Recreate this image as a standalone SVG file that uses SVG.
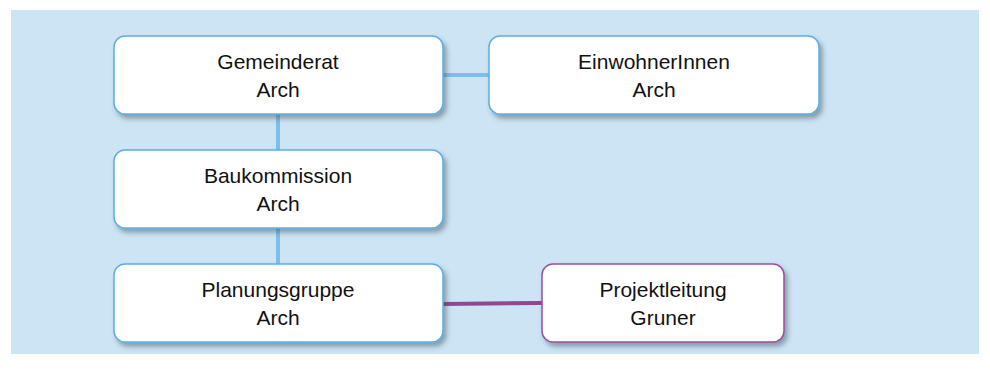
<svg xmlns="http://www.w3.org/2000/svg" width="990" height="382" viewBox="0 0 990 382">
<defs>
<filter id="sh" x="-10%" y="-20%" width="125%" height="150%">
<feDropShadow dx="3" dy="4" stdDeviation="2.5" flood-color="#334455" flood-opacity="0.45"/>
</filter>
<style>
.n{fill:#ffffff;stroke:#5eaee3;stroke-width:1.5;filter:url(#sh)}
.p{fill:#ffffff;stroke:#9b4f9c;stroke-width:1.5;filter:url(#sh)}
.t{font-family:"Liberation Sans",Arial,sans-serif;font-size:21px;fill:#111111;text-anchor:middle}
.cb{stroke:#7dbfe8;stroke-width:4;fill:none}
.cp{stroke:#8c4a8f;stroke-width:4;fill:none}
</style>
</defs>
<rect width="990" height="382" fill="#ffffff"/>
<rect x="11" y="10" width="968" height="344" fill="#cde4f4"/>
<g id="connectors">
<line class="cb" x1="443" y1="75" x2="489" y2="75"/>
<line class="cb" x1="278" y1="114" x2="278" y2="150"/>
<line class="cb" x1="278" y1="228" x2="278" y2="264"/>
<line class="cp" x1="443" y1="304" x2="542" y2="303"/>
</g>
<g id="gemeinderat">
<rect class="n" x="114" y="36" width="329" height="78" rx="11"/>
<text class="t" x="278" y="69">Gemeinderat</text>
<text class="t" x="278" y="97">Arch</text>
</g>
<g id="einwohnerinnen">
<rect class="n" x="489" y="36" width="330" height="78" rx="11"/>
<text class="t" x="654" y="69">EinwohnerInnen</text>
<text class="t" x="654" y="97">Arch</text>
</g>
<g id="baukommission">
<rect class="n" x="114" y="150" width="329" height="78" rx="11"/>
<text class="t" x="278" y="183">Baukommission</text>
<text class="t" x="278" y="211">Arch</text>
</g>
<g id="planungsgruppe">
<rect class="n" x="114" y="264" width="329" height="78" rx="11"/>
<text class="t" x="278" y="297">Planungsgruppe</text>
<text class="t" x="278" y="325">Arch</text>
</g>
<g id="projektleitung">
<rect class="p" x="542" y="264" width="242" height="78" rx="11"/>
<text class="t" x="663" y="297">Projektleitung</text>
<text class="t" x="663" y="325">Gruner</text>
</g>
</svg>
